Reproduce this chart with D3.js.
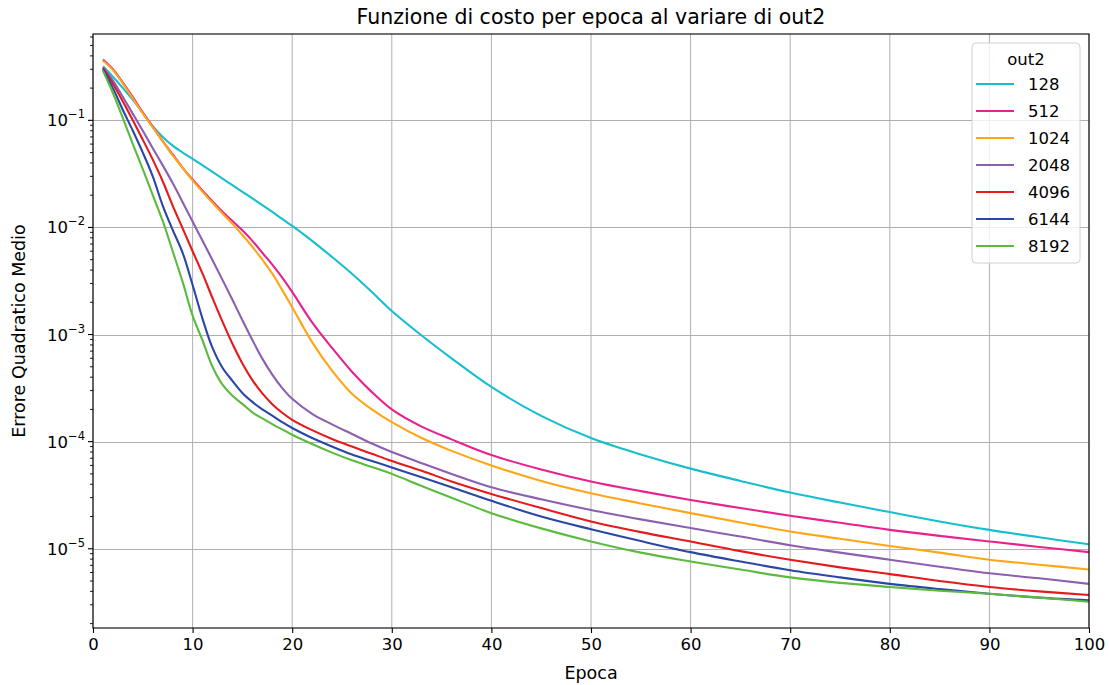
<!DOCTYPE html>
<html>
<head>
<meta charset="utf-8">
<script src="https://cdn.jsdelivr.net/npm/d3@7"></script>
<style>
  body { margin: 0; background: #fff; }
  text { font-family: "DejaVu Sans", sans-serif; fill: #000; }
</style>
</head>
<body>
<div id="chart-container"></div>
<script>
// Data

const epochs = [1,2,3,4,5,6,7,8,9,10,11,12,13,14,15,16,17,18,19,20,22,24,26,28,30,33,36,40,45,50,55,60,65,70,75,80,85,90,95,100];

const seriesNames = ["128", "512", "1024", "2048", "4096", "6144", "8192"];
const seriesColors = ["#17becf", "#e7228f", "#ffa516", "#8c5fb0", "#e41a1c", "#2a47a6", "#5cbb3f"];

const loss128 = [0.32,0.255,0.2,0.155,0.118,0.088,0.07,0.058,0.05,0.0437,0.038,0.033,0.0286,0.0248,0.0215,0.0187,0.0162,0.014,0.012,0.01035,0.0075,0.0053,0.0037,0.0025,0.00166,0.00098,0.0006,0.000324,0.000174,0.000108,7.6e-5,5.6e-5,4.3e-5,3.35e-5,2.7e-5,2.2e-5,1.8e-5,1.5e-5,1.28e-5,1.1e-5];
const loss512 = [0.37,0.3,0.225,0.165,0.118,0.087,0.064,0.048,0.036,0.028,0.022,0.0175,0.014,0.0115,0.0094,0.0075,0.0058,0.0045,0.0034,0.0025,0.0013,0.00075,0.00045,0.00029,0.0002,0.000138,0.000105,7.5e-5,5.5e-5,4.25e-5,3.45e-5,2.85e-5,2.4e-5,2.03e-5,1.75e-5,1.5e-5,1.32e-5,1.17e-5,1.04e-5,9.3e-6];
const loss1024 = [0.36,0.295,0.22,0.16,0.116,0.086,0.064,0.047,0.036,0.0275,0.0215,0.017,0.0135,0.0108,0.0085,0.0066,0.005,0.0037,0.0026,0.0018,0.00085,0.00046,0.00028,0.0002,0.000152,0.000108,8.2e-5,6.0e-5,4.3e-5,3.3e-5,2.65e-5,2.15e-5,1.76e-5,1.45e-5,1.24e-5,1.06e-5,9.2e-6,7.9e-6,7.1e-6,6.4e-6];
const loss2048 = [0.31,0.235,0.165,0.115,0.08,0.055,0.038,0.026,0.0172,0.01135,0.0075,0.00495,0.00324,0.00211,0.00136,0.00089,0.000596,0.000422,0.000316,0.000251,0.000182,0.000145,0.000118,9.6e-5,8.0e-5,6.3e-5,5.0e-5,3.75e-5,2.9e-5,2.3e-5,1.88e-5,1.56e-5,1.3e-5,1.08e-5,9.2e-6,7.9e-6,6.8e-6,5.9e-6,5.3e-6,4.7e-6];
const loss4096 = [0.31,0.22,0.15,0.1,0.066,0.043,0.027,0.016,0.0098,0.006,0.0037,0.00219,0.00132,0.00082,0.000537,0.000376,0.000282,0.000224,0.000186,0.00016,0.000128,0.000106,9.0e-5,7.7e-5,6.6e-5,5.35e-5,4.25e-5,3.25e-5,2.4e-5,1.8e-5,1.43e-5,1.17e-5,9.5e-6,7.9e-6,6.7e-6,5.8e-6,5.0e-6,4.4e-6,4.0e-6,3.7e-6];
const loss6144 = [0.3,0.2,0.125,0.08,0.05,0.03,0.016,0.0095,0.0058,0.0029,0.0014,0.00075,0.00049,0.00037,0.000285,0.000235,0.0002,0.000175,0.000152,0.000134,0.000108,9.0e-5,7.6e-5,6.6e-5,5.75e-5,4.65e-5,3.75e-5,2.8e-5,2.0e-5,1.52e-5,1.18e-5,9.3e-6,7.6e-6,6.3e-6,5.4e-6,4.7e-6,4.2e-6,3.8e-6,3.5e-6,3.3e-6];
const loss8192 = [0.29,0.18,0.105,0.06,0.035,0.02,0.0115,0.006,0.0031,0.0015,0.00088,0.0005,0.00034,0.000268,0.000225,0.000188,0.000165,0.000146,0.00013,0.000116,9.5e-5,7.9e-5,6.7e-5,5.8e-5,5.0e-5,3.85e-5,3.0e-5,2.15e-5,1.55e-5,1.17e-5,9.2e-6,7.6e-6,6.4e-6,5.4e-6,4.8e-6,4.4e-6,4.05e-6,3.8e-6,3.5e-6,3.2e-6];

const allLosses = [loss128, loss512, loss1024, loss2048, loss4096, loss6144, loss8192];

const xTicks = [0,10,20,30,40,50,60,70,80,90,100];
const yMajorExps = [-1,-2,-3,-4,-5];

// Dimensions

const W = 1109, H = 685;
const margin = { top: 34, right: 20, bottom: 57, left: 93 };
const width = W - margin.left - margin.right;
const height = H - margin.top - margin.bottom;

const x = d3.scaleLinear().domain([0, 100]).range([0, width]);
const y = d3.scaleLog().domain([1.82e-6, 0.64]).range([height, 0]);

const svg = d3.select("#chart-container")
  .append("svg")
    .attr("width", W)
    .attr("height", H);

const g = svg.append("g")
  .attr("transform", `translate(${margin.left},${margin.top})`);

// grid

g.append("g")
  .selectAll("line")
  .data(xTicks)
  .join("line")
    .attr("x1", d => x(d)).attr("x2", d => x(d))
    .attr("y1", 0).attr("y2", height)
    .attr("stroke", "#b0b0b0").attr("stroke-width", 1);

g.append("g")
  .selectAll("line")
  .data(yMajorExps)
  .join("line")
    .attr("x1", 0).attr("x2", width)
    .attr("y1", d => Math.round(y(Math.pow(10, d))) + 0.5)
    .attr("y2", d => Math.round(y(Math.pow(10, d))) + 0.5)
    .attr("stroke", "#b0b0b0").attr("stroke-width", 1);

// lines

g.append("clipPath").attr("id", "clip")
  .append("rect").attr("width", width).attr("height", height);

const line = d3.line()
  .x((d, i) => x(epochs[i]))
  .y(d => y(d))
  .curve(d3.curveCatmullRom.alpha(0.5));

g.append("g")
  .attr("clip-path", "url(#clip)")
  .selectAll("path")
  .data(allLosses)
  .join("path")
    .attr("fill", "none")
    .attr("stroke", (d, i) => seriesColors[i])
    .attr("stroke-width", 2.1)
    .attr("stroke-linejoin", "round")
    .attr("d", line);

// x-axis

const xAxis = g.append("g")
  .attr("transform", `translate(0,${height})`)
  .call(d3.axisBottom(x).tickValues(xTicks).tickSize(5).tickPadding(5));
xAxis.select(".domain").remove();
xAxis.selectAll("line").attr("stroke", "#000").attr("stroke-width", 1.1);
xAxis.selectAll("text")
  .attr("font-family", "DejaVu Sans")
  .attr("font-size", 16.5)
  .attr("fill", "#000");

// y-axis with minor ticks

const minor = y.ticks().filter(v => Math.abs(Math.log10(v) - Math.round(Math.log10(v))) > 1e-6);
g.append("g")
  .selectAll("line")
  .data(minor)
  .join("line")
    .attr("x1", -3).attr("x2", 0)
    .attr("y1", d => y(d)).attr("y2", d => y(d))
    .attr("stroke", "#000").attr("stroke-width", 0.9);

const yMajor = g.append("g");
yMajor.selectAll("line")
  .data(yMajorExps)
  .join("line")
    .attr("x1", -5).attr("x2", 0)
    .attr("y1", d => y(Math.pow(10, d))).attr("y2", d => y(Math.pow(10, d)))
    .attr("stroke", "#000").attr("stroke-width", 1.1);

const yLab = yMajor.selectAll("text")
  .data(yMajorExps)
  .join("text")
    .attr("x", -8)
    .attr("y", d => y(Math.pow(10, d)) + 6)
    .attr("text-anchor", "end")
    .attr("font-size", 16.5);
yLab.append("tspan").text("10");
yLab.append("tspan")
  .attr("dy", -8)
  .attr("font-size", 11.5)
  .text(d => "\u2212" + Math.abs(d));

// frame

g.append("rect")
  .attr("width", width).attr("height", height)
  .attr("fill", "none").attr("stroke", "#000").attr("stroke-width", 1.1);

// title and labels

svg.append("text")
  .attr("x", margin.left + width / 2)
  .attr("y", 24)
  .attr("text-anchor", "middle")
  .attr("font-size", 20.5)
  .text("Funzione di costo per epoca al variare di out2");

svg.append("text")
  .attr("x", margin.left + width / 2)
  .attr("y", 679)
  .attr("text-anchor", "middle")
  .attr("font-size", 17.5)
  .text("Epoca");

svg.append("text")
  .attr("transform", `translate(25,${margin.top + height / 2}) rotate(-90)`)
  .attr("text-anchor", "middle")
  .attr("font-size", 17.5)
  .text("Errore Quadratico Medio");

// legend

const lg = svg.append("g").attr("transform", "translate(972,43)");
lg.append("rect")
  .attr("width", 108).attr("height", 220)
  .attr("rx", 4)
  .attr("fill", "#fff").attr("fill-opacity", 0.8)
  .attr("stroke", "#d0d0d0");
lg.append("text")
  .attr("x", 54).attr("y", 22)
  .attr("text-anchor", "middle")
  .attr("font-size", 16.5)
  .text("out2");
const item = lg.selectAll("g.item")
  .data(seriesNames)
  .join("g")
    .attr("class", "item")
    .attr("transform", (d, i) => `translate(0,${41 + i * 27})`);
item.append("line")
  .attr("x1", 4).attr("x2", 42)
  .attr("stroke", (d, i) => seriesColors[i])
  .attr("stroke-width", 2.1);
item.append("text")
  .attr("x", 56).attr("y", 6)
  .attr("font-size", 16.5)
  .text(d => d);
</script>
</body>
</html>
